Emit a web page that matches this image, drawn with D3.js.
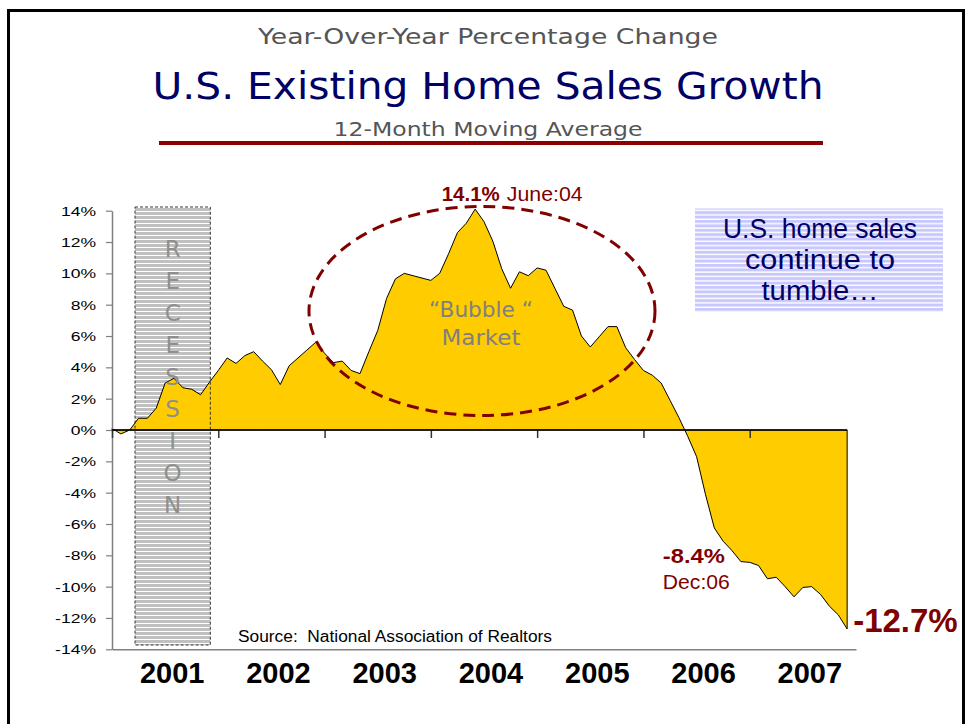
<!DOCTYPE html>
<html><head><meta charset="utf-8">
<script src="https://cdn.jsdelivr.net/npm/d3@7/dist/d3.min.js"></script>
<style>html,body{margin:0;padding:0;background:#fff;overflow:hidden}svg{display:block}</style>
</head><body>
<svg id="chart" width="967" height="724"></svg>
<script>
// ---------- data ----------
const years = ["2001","2002","2003","2004","2005","2006","2007"];
// 12-month moving average, YoY % change, monthly Jan 2001 .. Dec 2007
const growth = [
  0.1,-0.25,0.0,0.75,0.75,1.4,3.0,3.3,2.7,2.6,2.25,3.05,
  3.8,4.6,4.25,4.75,5.0,4.4,3.85,2.9,4.1,4.6,5.1,5.6,
  4.9,4.3,4.4,3.8,3.6,5.0,6.35,8.4,9.65,10.0,9.85,9.7,
  9.55,10.0,11.25,12.6,13.2,14.1,13.3,12.05,10.3,9.05,10.1,9.85,
  10.35,10.2,9.05,7.9,7.65,6.0,5.3,5.95,6.6,6.6,5.25,4.5,
  3.8,3.5,3.0,1.9,0.8,-0.4,-1.7,-4.1,-6.25,-7.1,-7.7,-8.4,
  -8.45,-8.65,-9.5,-9.4,-10.0,-10.65,-10.05,-10.0,-10.5,-11.25,-11.8,-12.7
];
const yTicks = [-14,-12,-10,-8,-6,-4,-2,0,2,4,6,8,10,12,14];
const recessionSpan = [2.6, 11.1];          // month index (Mar–Nov 2001)
const recessionWord = "RECESSION";
const peakLabel = "June:04", peakIdx = 41;
const troughLabel = "Dec:06", troughIdx = 71;
const noteLines = ["U.S. home sales", "continue to", "tumble\u2026"];
const headerTop = "Year-Over-Year Percentage Change";
const headerMain = "U.S. Existing Home Sales Growth";
const headerSub = "12-Month Moving Average";
const bubbleLines = ["\u201cBubble \u201c", "Market"];
const sourceText = "Source:  National Association of Realtors";

// ---------- setup ----------
const svg = d3.select("#chart");
const locale = d3.formatLocale({decimal:".", thousands:",", grouping:[3], currency:["$",""], minus:"-"});
const fmtPct = v => locale.format(".1f")(v) + "%";
const DARKRED = "#800000", NAVY = "#000066";

const x = d3.scaleLinear().domain([0, 84]).range([112, 856]);
const y = d3.scaleLinear().domain([-14, 14]).range([649.3, 210.7]);
const yearBand = d3.scaleBand().domain(years).range([x(0), x(84)]);

// patterns
const defs = svg.append("defs");
const p1 = defs.append("pattern").attr("id","recPat").attr("patternUnits","userSpaceOnUse")
  .attr("width",8).attr("height",4);
p1.append("rect").attr("width",8).attr("height",4).attr("fill","#c0c0c0");
p1.append("rect").attr("y",3).attr("width",8).attr("height",1).attr("fill","#ffffff");
const p2 = defs.append("pattern").attr("id","notePat").attr("patternUnits","userSpaceOnUse")
  .attr("width",8).attr("height",4.4);
p2.append("rect").attr("width",8).attr("height",4.4).attr("fill","#c8c8ff");
p2.append("rect").attr("y",3).attr("width",8).attr("height",1.4).attr("fill","#ffffff");

// frame
svg.append("rect").attr("x",8.5).attr("y",10.5).attr("width",955).attr("height",800)
  .attr("fill","none").attr("stroke","#000").attr("stroke-width",3);

// header
svg.append("text").text(headerTop).attr("x",488).attr("y",43.5).attr("text-anchor","middle")
  .attr("font-family","DejaVu Sans").attr("font-size",22).attr("fill","#555")
  .attr("textLength",460).attr("lengthAdjust","spacingAndGlyphs");
svg.append("text").text(headerMain).attr("x",488).attr("y",98.5).attr("text-anchor","middle")
  .attr("font-family","DejaVu Sans").attr("font-size",37).attr("fill",NAVY)
  .attr("textLength",671).attr("lengthAdjust","spacingAndGlyphs");
svg.append("text").text(headerSub).attr("x",488).attr("y",135.5).attr("text-anchor","middle")
  .attr("font-family","DejaVu Sans").attr("font-size",20).attr("fill","#555")
  .attr("textLength",309).attr("lengthAdjust","spacingAndGlyphs");
svg.append("rect").attr("x",159).attr("y",141).attr("width",664).attr("height",4).attr("fill","#8b0000");

// recession box fill
const recX0 = x(recessionSpan[0]), recX1 = x(recessionSpan[1]);
svg.append("rect").attr("x",recX0).attr("y",207).attr("width",recX1-recX0).attr("height",438)
  .attr("fill","url(#recPat)");

// note box
svg.append("rect").attr("x",695).attr("y",208.5).attr("width",248).attr("height",103.5)
  .attr("fill","url(#notePat)");
const noteW = [194, 150, 117];
noteLines.forEach((t,i) => {
  svg.append("text").text(t).attr("x",820).attr("y",238 + i*31).attr("text-anchor","middle")
    .attr("font-family","Liberation Sans, Arial").attr("font-size",27).attr("fill",NAVY)
    .attr("textLength",noteW[i]).attr("lengthAdjust","spacingAndGlyphs");
});

// area
const area = d3.area().x((d,i)=>x(i)).y0(y(0)).y1(d=>y(d));
svg.append("path").datum(growth).attr("d",area).attr("fill","#ffcc00")
  .attr("stroke","#000").attr("stroke-width",1).attr("stroke-linejoin","round");

// y axis
const yAxis = svg.append("g").attr("transform",`translate(${x(0)},0)`)
  .call(d3.axisLeft(y).tickValues(yTicks).tickSize(6).tickSizeOuter(0).tickFormat(d=>d+"%"));
yAxis.select(".domain").attr("stroke","#808080").attr("stroke-width",1.5);
yAxis.selectAll(".tick line").attr("stroke","#808080").attr("stroke-width",1.2);
yAxis.selectAll(".tick text").attr("x",0).attr("dy","0.35em")
  .attr("transform","translate(-16,0) scale(1.35,1)")
  .attr("font-family","Liberation Sans, Arial").attr("font-size",13).attr("fill","#000");

// bottom axis line
const bAxis = svg.append("g").attr("transform",`translate(0,${y(-14)})`)
  .call(d3.axisBottom(x).tickValues([]).tickSizeOuter(0));
bAxis.select(".domain").attr("stroke","#808080").attr("stroke-width",1.5);

// zero axis (category axis) with year-boundary ticks
const zAxis = svg.append("g").attr("transform",`translate(0,${y(0)})`)
  .call(d3.axisBottom(x).tickValues(d3.range(0,84,12)).tickSize(8).tickFormat(""));
zAxis.select(".domain").remove();
zAxis.selectAll(".tick line").attr("stroke","#333").attr("stroke-width",1.5);
svg.append("line").attr("x1",x(0)).attr("x2",x(growth.length-1)).attr("y1",y(0)).attr("y2",y(0))
  .attr("stroke","#000").attr("stroke-width",1.5);

// year labels
svg.append("g").selectAll("text").data(years).join("text")
  .attr("x",d=>yearBand(d)+yearBand.bandwidth()/2+7).attr("y",683)
  .attr("text-anchor","middle").attr("font-family","Liberation Sans, Arial")
  .attr("font-weight","bold").attr("font-size",29).attr("fill","#000").text(d=>d);

// recession border + letters
svg.append("rect").attr("x",recX0).attr("y",207).attr("width",recX1-recX0).attr("height",438)
  .attr("fill","none").attr("stroke","#333").attr("stroke-width",1).attr("stroke-dasharray","3,2");
recessionWord.split("").forEach((c,i)=>{
  svg.append("text").text(c).attr("x",(recX0+recX1)/2).attr("y",256.5+i*32.03)
    .attr("text-anchor","middle").attr("font-family","DejaVu Sans").attr("font-size",23)
    .attr("fill","#8f8f8f");
});

// bubble ellipse and text
svg.append("ellipse").attr("cx",482).attr("cy",311).attr("rx",173).attr("ry",104.5)
  .attr("fill","none").attr("stroke",DARKRED).attr("stroke-width",3).attr("stroke-dasharray","12,7");
svg.append("text").text(bubbleLines[0]).attr("x",481).attr("y",317).attr("text-anchor","middle")
  .attr("font-family","DejaVu Sans").attr("font-size",22).attr("fill","#808080")
  .attr("textLength",104).attr("lengthAdjust","spacingAndGlyphs");
svg.append("text").text(bubbleLines[1]).attr("x",481).attr("y",345).attr("text-anchor","middle")
  .attr("font-family","DejaVu Sans").attr("font-size",22).attr("fill","#808080")
  .attr("textLength",79).attr("lengthAdjust","spacingAndGlyphs");

// peak annotation
svg.append("text").text(fmtPct(growth[peakIdx])).attr("x",x(peakIdx)-33.4).attr("y",201)
  .attr("font-family","Liberation Sans, Arial").attr("font-weight","bold").attr("font-size",20)
  .attr("fill",DARKRED).attr("textLength",58).attr("lengthAdjust","spacingAndGlyphs");
svg.append("text").text(peakLabel).attr("x",x(peakIdx)+31.6).attr("y",201)
  .attr("font-family","Liberation Sans, Arial").attr("font-size",20)
  .attr("fill",DARKRED).attr("textLength",76).attr("lengthAdjust","spacingAndGlyphs");

// trough annotation
svg.append("text").text(fmtPct(growth[troughIdx])).attr("x",x(troughIdx)-78).attr("y",563)
  .attr("font-family","Liberation Sans, Arial").attr("font-weight","bold").attr("font-size",21)
  .attr("fill",DARKRED).attr("textLength",62).attr("lengthAdjust","spacingAndGlyphs");
svg.append("text").text(troughLabel).attr("x",x(troughIdx)-78).attr("y",589)
  .attr("font-family","Liberation Sans, Arial").attr("font-size",21)
  .attr("fill",DARKRED).attr("textLength",67).attr("lengthAdjust","spacingAndGlyphs");

// last value
const lastI = growth.length-1;
svg.append("text").text(fmtPct(growth[lastI])).attr("x",x(lastI)+6).attr("y",632)
  .attr("font-family","Liberation Sans, Arial").attr("font-weight","bold").attr("font-size",33)
  .attr("fill",DARKRED);

// source
svg.append("text").text(sourceText).attr("x",238).attr("y",642)
  .style("white-space","pre")
  .attr("font-family","Liberation Sans, Arial").attr("font-size",16).attr("fill","#000")
  .attr("textLength",314).attr("lengthAdjust","spacingAndGlyphs");
</script>
</body></html>
